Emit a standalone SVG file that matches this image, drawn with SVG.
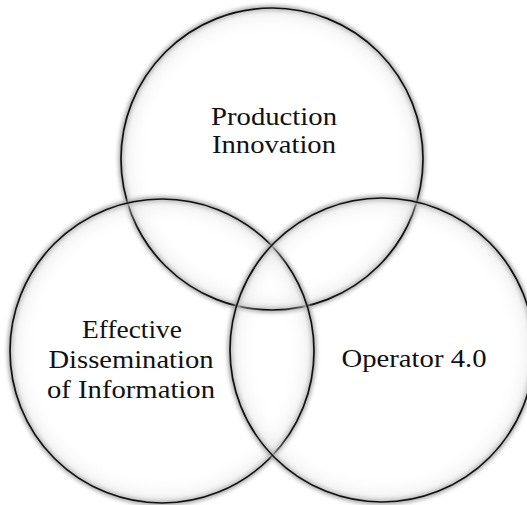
<svg xmlns="http://www.w3.org/2000/svg" width="527" height="505" viewBox="0 0 527 505">
  <defs>
    <filter id="soft" x="-20%" y="-20%" width="140%" height="140%">
      <feGaussianBlur stdDeviation="2"/>
    </filter>
    <radialGradient id="shade" cx="50%" cy="50%" r="50%">
      <stop offset="0.82" stop-color="#ffffff" stop-opacity="0"/>
      <stop offset="1" stop-color="#d8d8d8" stop-opacity="0.45"/>
    </radialGradient>
  </defs>
  <style>
    .glow { fill: none; stroke: #9a9a9a; stroke-width: 4.5; filter: url(#soft); }
    .ring { fill: url(#shade); stroke: #111111; stroke-width: 1.7; }
    .label { font-family: "Liberation Serif", "DejaVu Serif", serif; font-size: 25px; fill: #111111; text-anchor: middle; }
  </style>
  <rect width="527" height="505" fill="#ffffff"/>
  <g id="connectors"></g>
  <g id="production-innovation">
    <circle class="glow" cx="272" cy="159" r="151"/>
    <circle class="ring" cx="272" cy="159" r="151"/>
  </g>
  <g id="effective-dissemination">
    <circle class="glow" cx="162" cy="351" r="152"/>
    <circle class="ring" cx="162" cy="351" r="152"/>
  </g>
  <g id="operator-4-0">
    <circle class="glow" cx="382" cy="350" r="152"/>
    <circle class="ring" cx="382" cy="350" r="152"/>
  </g>
  <g id="labels">
    <text class="label" x="274" y="125" textLength="126" lengthAdjust="spacingAndGlyphs">Production</text>
    <text class="label" x="274" y="153" textLength="124" lengthAdjust="spacingAndGlyphs">Innovation</text>
    <text class="label" x="132" y="338" textLength="100" lengthAdjust="spacingAndGlyphs">Effective</text>
    <text class="label" x="131" y="368" textLength="165" lengthAdjust="spacingAndGlyphs">Dissemination</text>
    <text class="label" x="131" y="398" textLength="168" lengthAdjust="spacingAndGlyphs">of Information</text>
    <text class="label" x="414" y="367" textLength="145" lengthAdjust="spacingAndGlyphs">Operator 4.0</text>
  </g>
</svg>
